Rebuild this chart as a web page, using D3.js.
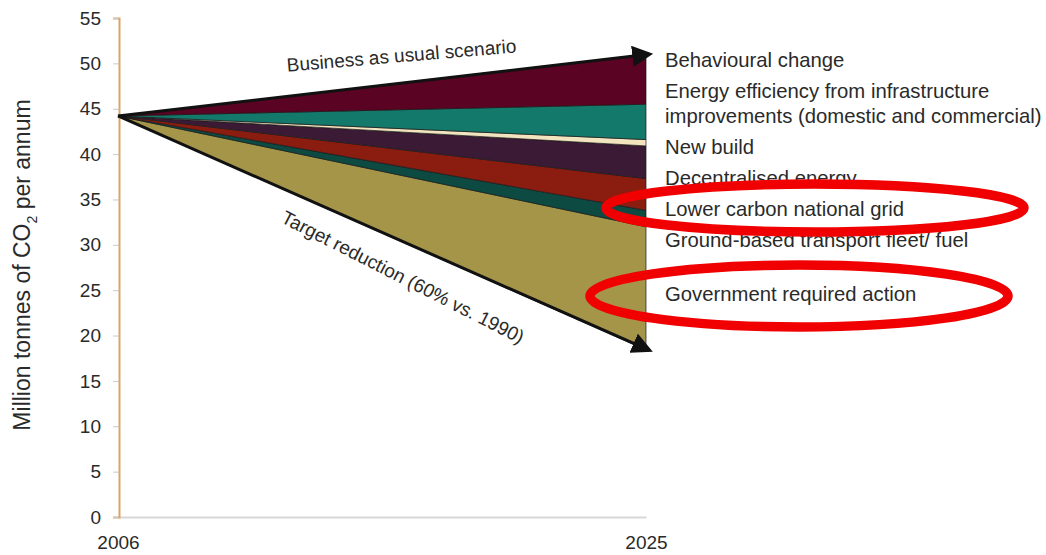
<!DOCTYPE html>
<html>
<head>
<meta charset="utf-8">
<script src="https://cdn.jsdelivr.net/npm/d3@7"></script>
<style>
  body { margin: 0; background: #fff; }
  svg text { font-family: "Liberation Sans", Arial, sans-serif; fill: #2a2a2a; }
</style>
</head>
<body>
<div id="chart"></div>
<script>
// values, 2006 -> 2025 (Mt CO2 per annum)
const years = [2006, 2025];
const target = [44.2, 18.4];            // target reduction path (60% vs 1990)
const govAction = [0, 13.6];
const transport = [0, 1.8];
const nationalGrid = [0, 3.5];
const decentralised = [0, 3.6];
const newBuild = [0, 0.7];
const energyEfficiency = [0, 3.9];
const behavioural = [0, 5.5];
const yTicks = [0, 5, 10, 15, 20, 25, 30, 35, 40, 45, 50, 55];

const keys = ["gov", "transport", "grid", "decentral", "newbuild", "efficiency", "behaviour"];
const colors = ["#a49549", "#0c4a42", "#8a1c10", "#3b1a36", "#f1e4bf", "#13796b", "#5a0322"];
// legend, top to bottom
const legendLabels = [
  ["Behavioural change"],
  ["Energy efficiency from infrastructure", "improvements (domestic and commercial)"],
  ["New build"],
  ["Decentralised energy"],
  ["Lower carbon national grid"],
  ["Ground-based transport fleet/ fuel"],
  ["Government required action"]
];

const width = 1046, height = 555;
const svg = d3.select("#chart").append("svg")
  .attr("width", width).attr("height", height);

const x = d3.scaleLinear().domain(d3.extent(years)).range([118, 646]);
const y = d3.scaleLinear().domain([0, 55]).range([517, 18]);

const rows = years.map((yr, i) => ({
  year: yr, base: target[i], gov: govAction[i], transport: transport[i],
  grid: nationalGrid[i], decentral: decentralised[i], newbuild: newBuild[i],
  efficiency: energyEfficiency[i], behaviour: behavioural[i]
}));
const stacked = d3.stack().keys(["base"].concat(keys))(rows);

// axes
const yAxis = svg.append("g").attr("transform", `translate(${x(2006) + 1},0)`)
  .call(d3.axisLeft(y).tickValues(yTicks).tickSize(6).tickPadding(12));
yAxis.select(".domain").attr("stroke", "#d9a468").attr("stroke-width", 2);
yAxis.selectAll(".tick line").attr("stroke", "#c8c8c8");
yAxis.selectAll(".tick text").style("font-size", "19px").style("fill", "#2a2a2a");

const xAxis = svg.append("g").attr("transform", `translate(0,${y(0)})`)
  .call(d3.axisBottom(x).tickValues(years).tickFormat(d3.format("d")).tickSize(0).tickPadding(19));
xAxis.select(".domain").attr("stroke", "#d8d8d8").attr("stroke-width", 2);
xAxis.selectAll(".tick text").style("font-size", "19px").style("fill", "#2a2a2a");
yAxis.raise();

svg.append("text")
  .attr("transform", `translate(30,265) rotate(-90)`)
  .attr("text-anchor", "middle")
  .style("font-size", "23px")
  .call(t => {
    t.append("tspan").text("Million tonnes of CO");
    t.append("tspan").text("2").style("font-size", "14px").attr("dy", 7);
    t.append("tspan").text(" per annum").attr("dy", -7);
  });

// wedges
const area = d3.area()
  .x(d => x(d.data.year))
  .y0(d => y(d[0]))
  .y1(d => y(d[1]));

svg.append("g").selectAll("path")
  .data(stacked.slice(1))
  .join("path")
  .attr("d", area)
  .attr("fill", (d, i) => colors[i])
  .attr("stroke", "#1a1a1a")
  .attr("stroke-width", 0.7)
  .attr("stroke-linejoin", "round");

// arrows
const defs = svg.append("defs");
defs.append("marker")
  .attr("id", "arrow")
  .attr("viewBox", "0 0 10 10")
  .attr("refX", 8).attr("refY", 5)
  .attr("markerWidth", 7).attr("markerHeight", 7)
  .attr("markerUnits", "strokeWidth")
  .attr("orient", "auto")
  .append("path").attr("d", "M0,0L10,5L0,10z").attr("fill", "#111");

const topSeries = stacked[stacked.length - 1];
const baseSeries = stacked[0];
const arrowLines = [
  [topSeries[0], topSeries[1]].map(d => [x(d.data.year), y(d[1])]),
  [baseSeries[0], baseSeries[1]].map(d => [x(d.data.year), y(d[1])])
];
svg.append("g").selectAll("line")
  .data(arrowLines)
  .join("line")
  .attr("x1", d => d[0][0]).attr("y1", d => d[0][1])
  .attr("x2", d => d[1][0] + 3).attr("y2", d => d[1][1])
  .attr("stroke", "#111").attr("stroke-width", 3)
  .attr("marker-end", "url(#arrow)");

// arrow captions
svg.append("text")
  .attr("transform", "translate(402,62) rotate(-4.8)")
  .attr("text-anchor", "middle")
  .style("font-size", "19px")
  .text("Business as usual scenario");
svg.append("text")
  .attr("transform", "translate(400,283) rotate(27)")
  .attr("text-anchor", "middle")
  .style("font-size", "19px")
  .text("Target reduction (60% vs. 1990)");

// legend labels on the right
const legendX = 665;
let ly = 60;
const labelCenters = [];
legendLabels.forEach((lines, i) => {
  if (i === legendLabels.length - 1) ly += 23;
  labelCenters.push(ly);
  const t = svg.append("text").attr("x", legendX).attr("y", ly)
    .style("font-size", "20.3px");
  lines.forEach((ln, j) => {
    t.append("tspan").attr("x", legendX).attr("dy", j === 0 ? "0.35em" : 25).text(ln);
  });
  ly += 31 + (lines.length - 1) * 25;
});

// red highlight ellipses round two of the labels
const highlights = [[4, 150, 209, 24, -1], [6, 134, 209, 31, 2]];
svg.append("g").selectAll("ellipse")
  .data(highlights)
  .join("ellipse")
  .attr("cx", d => legendX + d[1])
  .attr("cy", d => labelCenters[d[0]] + d[4])
  .attr("rx", d => d[2]).attr("ry", d => d[3])
  .attr("fill", "none")
  .attr("stroke", "#f00000")
  .attr("stroke-width", 9.5);
</script>
</body>
</html>
